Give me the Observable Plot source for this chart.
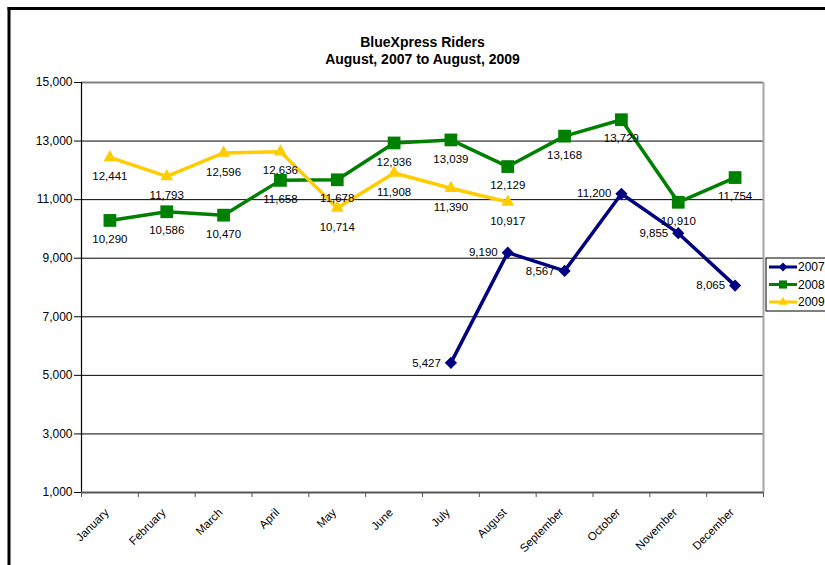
<!DOCTYPE html>
<html><head><meta charset="utf-8">
<script src="https://cdn.jsdelivr.net/npm/d3@7"></script>
<script src="https://cdn.jsdelivr.net/npm/@observablehq/plot@0.6"></script>
<style>
body{margin:0;background:#fff}
#chart{position:relative;width:825px;height:565px;overflow:hidden}
</style>
</head><body><div id="chart"></div>
<script>
const months = ["January","February","March","April","May","June","July","August","September","October","November","December"];
const months2007 = ["July","August","September","October","November","December"];
const riders2007 = [5427, 9190, 8567, 11200, 9855, 8065];
const months2008 = months;
const riders2008 = [10290, 10586, 10470, 11658, 11678, 12936, 13039, 12129, 13168, 13729, 10910, 11754];
const months2009 = ["January","February","March","April","May","June","July","August"];
const riders2009 = [12441, 11793, 12596, 12636, 10714, 11908, 11390, 10917];
const yTicks = [1000, 3000, 5000, 7000, 9000, 11000, 13000, 15000];
const seriesNames = ["2007", "2008", "2009"];
const seriesColors = ["#000080", "#008000", "#FFCC00"];
const titleLines = ["BlueXpress Riders", "August, 2007 to August, 2009"];

const toRows = (name, ms, vs) => ms.map((m, i) => ({series: name, month: m, idx: months.indexOf(m), value: vs[i]}));
const s2007 = toRows("2007", months2007, riders2007);
const s2008 = toRows("2008", months2008, riders2008);
const s2009 = toRows("2009", months2009, riders2009);
const fmt = d3.format(",");
const font = "'Liberation Sans', Arial, sans-serif";

const chart = Plot.plot({
  width: 825,
  height: 565,
  marginLeft: 81,
  marginRight: 62,
  marginTop: 82,
  marginBottom: 73,
  style: {fontFamily: font, fontSize: "12px", color: "#000", background: "transparent"},
  x: {type: "linear", domain: [-0.5, 11.5], axis: null},
  y: {domain: [1000, 15000], axis: null},
  color: {domain: seriesNames, range: seriesColors},
  marks: [
    Plot.ruleY(yTicks.slice(1, -1), {stroke: "#000", strokeWidth: 1}),
    Plot.ruleY([15000], {stroke: "#808080", strokeWidth: 2}),
    Plot.ruleX([11.5], {stroke: "#a6a6a6", strokeWidth: 2}),
    Plot.ruleX([-0.5], {stroke: "#000", strokeWidth: 1.2}),
    Plot.ruleY([1000], {stroke: "#555", strokeWidth: 2}),
    Plot.axisY({ticks: yTicks, tickFormat: fmt, tickSize: 7, tickPadding: 2, fontSize: 12, label: null, stroke: "#000"}),
    Plot.axisX({ticks: d3.range(-0.5, 12, 1), tickFormat: () => "", tickSize: 5, label: null, stroke: "#555"}),
    Plot.axisX({ticks: d3.range(0, 12), tickFormat: i => months[i], tickSize: 0, tickPadding: 18, dx: -3, tickRotate: -45, fontSize: 11.5, label: null}),
    Plot.line(s2007, {x: "idx", y: "value", stroke: "series", strokeWidth: 3.5}),
    Plot.line(s2008, {x: "idx", y: "value", stroke: "series", strokeWidth: 3.5}),
    Plot.line(s2009, {x: "idx", y: "value", stroke: "series", strokeWidth: 3.5}),
    Plot.dot(s2007, {x: "idx", y: "value", fill: "series", symbol: "diamond2", r: 5.5}),
    Plot.dot(s2008, {x: "idx", y: "value", fill: "series", symbol: "square", r: 7.2}),
    Plot.dot(s2009, {x: "idx", y: "value", fill: "series", symbol: "triangle", r: 4.8}),
    Plot.text(s2007, {x: "idx", y: "value", text: d => fmt(d.value), textAnchor: "end", dx: -10, fontSize: 11.5, fill: "#000"}),
    Plot.text(s2008, {x: "idx", y: "value", text: d => fmt(d.value), dy: 19, fontSize: 11.5, fill: "#000"}),
    Plot.text(s2009, {x: "idx", y: "value", text: d => fmt(d.value), dy: 19, fontSize: 11.5, fill: "#000"}),
    Plot.text([titleLines[0]], {frameAnchor: "top", dy: -45, fontWeight: "bold", fontSize: 14, fill: "#000"}),
    Plot.text([titleLines[1]], {frameAnchor: "top", dy: -28, fontWeight: "bold", fontSize: 14, fill: "#000"})
  ]
});
document.getElementById("chart").appendChild(chart);

// outer chart border (left and top)
const svg = d3.select(chart);
svg.append("line").attr("x1", 9).attr("x2", 9).attr("y1", 7).attr("y2", 565).attr("stroke", "#000").attr("stroke-width", 3);
svg.append("line").attr("x1", 7.5).attr("x2", 825).attr("y1", 8.5).attr("y2", 8.5).attr("stroke", "#000").attr("stroke-width", 3);

// legend
const lg = svg.append("g").attr("font-family", font).attr("font-size", 12).attr("text-anchor", "start");
lg.append("rect").attr("x", 766).attr("y", 258).attr("width", 70).attr("height", 53)
  .attr("fill", "#fff").attr("stroke", "#000").attr("stroke-width", 1);
const symbols = [d3.symbolDiamond2, d3.symbolSquare, d3.symbolTriangle];
const sizes = [Math.PI * 4 * 4, Math.PI * 4.6 * 4.6, Math.PI * 3.4 * 3.4];
seriesNames.forEach((name, i) => {
  const y = 267 + i * 17.5;
  lg.append("line").attr("x1", 769).attr("x2", 797).attr("y1", y).attr("y2", y)
    .attr("stroke", seriesColors[i]).attr("stroke-width", 3);
  lg.append("path").attr("d", d3.symbol(symbols[i], sizes[i])()).attr("transform", `translate(783,${y})`)
    .attr("fill", seriesColors[i]);
  lg.append("text").attr("x", 798).attr("y", y).attr("dy", "0.35em").attr("text-anchor", "start").text(name);
});
</script>
</body></html>
